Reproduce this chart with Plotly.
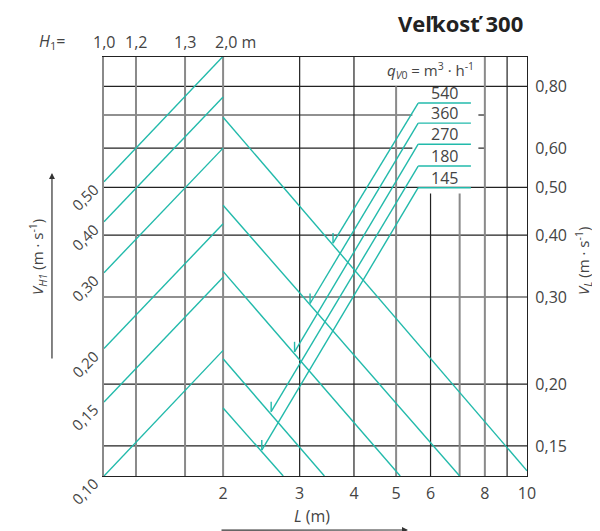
import numpy as np
import plotly.graph_objects as go

# --- axis scales --------------------------------------------------------
# left block of the chart is the H1 scale, its lines sit on the L axis
h1_labels = ["1,0", "1,2", "1,3", "2,0"]
h1_pos = [1.0645, 1.261, 1.635, 2.0]

l_ticks = [2, 3, 4, 5, 6, 8, 10]
l_text = ["2", "3", "4", "5", "6", "8", "10"]

v_ticks = [0.15, 0.20, 0.30, 0.40, 0.50, 0.60, 0.80]
v_text = ["0,15", "0,20", "0,30", "0,40", "0,50", "0,60", "0,80"]
v_grid = [0.15, 0.20, 0.30, 0.40, 0.50, 0.80]
v_grid_cut = [0.60, 0.70]          # broken by the q_V0 legend box

L_MIN, L_MAX = 1.0645, 10
V_MIN, V_MAX = 0.1304, 0.917

# vertical grid lines in the L part (value, top end)
grid_dark = [(3, V_MAX), (4, V_MAX), (6, 0.486), (9, V_MAX)]
grid_gray = [(1.261, V_MAX), (1.635, V_MAX), (2, V_MAX), (5, 0.80), (7, 0.486), (8, V_MAX)]
box_L = [5.45, 7.73, 8]

# --- V_H1 lines: from H1=1,0 edge to H1=2,0 -----------------------------
vh1_labels = ["0,50", "0,40", "0,30", "0,20", "0,15", "0,10"]
vh1_start = [0.513, 0.426, 0.336, 0.236, 0.184, 0.1304]
vh1_end = [0.92, 0.761, 0.600, 0.422, 0.329, 0.234]

# --- V_L lines from L=2 downwards ---------------------------------------
vl_start = [0.693, 0.460, 0.338, 0.225, 0.179]
vl_end_L = [10, 7.0, 5.11, 3.42, 2.75]
vl_end_V = [0.1336, 0.1304, 0.1304, 0.1304, 0.1304]

# --- q_V0 reading lines ----------------------------------------------------
q_labels = ["540", "360", "270", "180", "145"]
q_level = [0.740, 0.674, 0.611, 0.552, 0.499]
q_tip_L = [3.58, 3.17, 2.92, 2.58, 2.455]
q_tip_V = [0.3855, 0.2911, 0.2324, 0.1759, 0.1471]
q_bar_L = [5.62, 7.43]

TEAL = "#22baab"
DARK = "#222222"
GRAY = "#8a8a8a"
TXT = "#444444"
FONT = "Open Sans"


def lines_trace(segs, color, width):
    xs, ys = [], []
    for x0, y0, x1, y1 in segs:
        xs += [x0, x1, None]
        ys += [y0, y1, None]
    return go.Scatter(x=xs, y=ys, mode="lines", line=dict(color=color, width=width),
                      hoverinfo="skip", showlegend=False)


def label(text, x, y, xref="paper", yref="paper", size=16, **kw):
    d = dict(x=x, y=y, xref=xref, yref=yref, text=text, showarrow=False,
             xanchor="center", yanchor="middle", font=dict(size=size, color=TXT))
    d.update(kw)
    return d


fig = go.Figure()

# grid
hseg = [(L_MIN, v, L_MAX, v) for v in v_grid]
hseg += [(L_MIN, v, box_L[0], v) for v in v_grid_cut]
hseg += [(box_L[1], v, box_L[2], v) for v in v_grid_cut]
fig.add_trace(lines_trace(hseg, DARK, 1.2))
fig.add_trace(lines_trace([(l, V_MIN, l, top) for l, top in grid_dark], DARK, 1.2))
fig.add_trace(lines_trace([(l, V_MIN, l, top) for l, top in grid_gray], GRAY, 2))

# nomogram lines
teal = [(L_MIN, a, h1_pos[-1], b) for a, b in zip(vh1_start, vh1_end)]
teal += [(2, a, l, v) for a, l, v in zip(vl_start, vl_end_L, vl_end_V)]
teal += [(q_bar_L[0], q, l, v) for q, l, v in zip(q_level, q_tip_L, q_tip_V)]
teal += [(q_bar_L[0], q, q_bar_L[1], q) for q in q_level]
teal += [(l, v, l, v * 1.048) for l, v in zip(q_tip_L, q_tip_V)]  # arrow barbs
fig.add_trace(lines_trace(teal, TEAL, 1.4))

ann = []
# H1 header
ann.append(label("<i>H</i><sub>1</sub>=", -0.123, 1.036))
for i, (lab, pos) in enumerate(zip(h1_labels, h1_pos)):
    if i == len(h1_labels) - 1:
        ann.append(label(lab + " m", np.log10(pos), 1.036, xref="x", xanchor="left", xshift=-10))
    else:
        ann.append(label(lab, np.log10(pos), 1.036, xref="x"))

# V_H1 labels on the left edge
for lab, v in zip(vh1_labels, vh1_start):
    ann.append(label(lab, np.log10(L_MIN), np.log10(v), xref="x", yref="y", size=15,
                     textangle=-45, xshift=-19, yshift=-15))

# q_V0 legend
ann.append(label("<i>q</i><sub><i>V</i>0</sub> = m<sup>3</sup> · h<sup>-1</sup>", 0.773, 0.9666, size=15))
qmid = np.log10(np.sqrt(q_bar_L[0] * q_bar_L[1]))
for lab, q in zip(q_labels, q_level):
    ann.append(label(lab, qmid, np.log10(q), xref="x", yref="y", yanchor="bottom", yshift=-3))

# title
ann.append(dict(x=0.995, y=1.081, xref="paper", yref="paper", showarrow=False,
                text="<b>Veľkosť 300</b>", xanchor="right", yanchor="middle",
                font=dict(size=22, color=DARK)))

# axis titles and arrows
ann.append(label("<i>V</i><sub><i>H1</i></sub> (m · s<sup>-1</sup>)", -0.156, 0.523, size=15, textangle=-90))
ann.append(label("<i>V</i><sub><i>L</i></sub> (m · s<sup>-1</sup>)", 1.132, 0.513, size=15, textangle=-90))
ann.append(label("<i>L</i> (m)", 0.492, -0.095))
for x, y, ax, ay in [(-0.123, 0.723, 0, 187), (1.168, 0.723, 0, 187), (0.7187, -0.129, -188, 0)]:
    ann.append(dict(x=x, y=y, xref="paper", yref="paper", ax=ax, ay=ay, text="",
                    showarrow=True, arrowhead=2, arrowsize=1, arrowwidth=1.2, arrowcolor="#333"))

# page body adds an 8px offset, so the figure is 8px smaller
fig.update_layout(
    width=592, height=523,
    margin=dict(l=96, r=73, t=49, b=55),
    paper_bgcolor="white", plot_bgcolor="white",
    font=dict(family=FONT, color=TXT),
    annotations=ann,
    xaxis=dict(type="log", range=[np.log10(L_MIN), np.log10(L_MAX)], showgrid=False, zeroline=False,
               tickvals=l_ticks, ticktext=l_text, ticks="outside", ticklen=3,
               tickcolor="rgba(0,0,0,0)", tickfont=dict(size=16, color=TXT),
               showline=True, mirror=True, linecolor=DARK, linewidth=1.3),
    yaxis=dict(type="log", range=[np.log10(V_MIN), np.log10(V_MAX)], showgrid=False, zeroline=False,
               side="right", tickvals=v_ticks, ticktext=v_text, ticks="outside", ticklen=4,
               tickcolor="rgba(0,0,0,0)", tickfont=dict(size=16, color=TXT),
               showline=True, linecolor=DARK, linewidth=1.3),
    yaxis2=dict(type="log", range=[np.log10(V_MIN), np.log10(V_MAX)], overlaying="y", side="left",
                showgrid=False, zeroline=False, showticklabels=False,
                showline=True, linecolor=GRAY, linewidth=2),
)
fig.add_trace(go.Scatter(x=[None], y=[None], yaxis="y2", showlegend=False, hoverinfo="skip"))

fig.write_html("out.html")
